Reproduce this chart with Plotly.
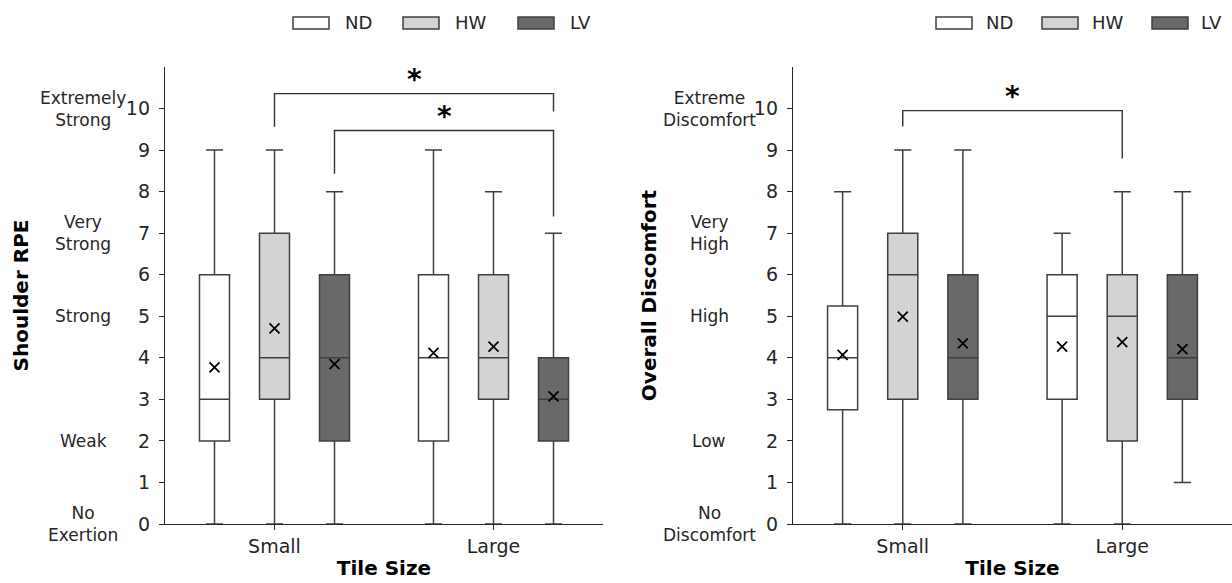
import plotly.graph_objects as go

# ---------------- data ----------------
conditions = ["ND", "HW", "LV"]
tile_sizes = ["Small", "Large"]
y_ticks = list(range(0, 11))

# Shoulder RPE (rows: ND, HW, LV ; cols: Small, Large)
rpe_min = [[0, 0], [0, 0], [0, 0]]
rpe_q1 = [[2, 2], [3, 3], [2, 2]]
rpe_med = [[3, 4], [4, 4], [4, 3]]
rpe_q3 = [[6, 6], [7, 6], [6, 4]]
rpe_max = [[9, 9], [9, 8], [8, 7]]
rpe_mean = [[3.77, 4.12], [4.71, 4.27], [3.85, 3.07]]
rpe_scale_vals = [10, 7, 5, 2, 0]
rpe_scale_text = ["Extremely<br>Strong", "Very<br>Strong", "Strong", "Weak", "No<br>Exertion"]

# Overall discomfort (rows: ND, HW, LV ; cols: Small, Large)
dis_min = [[0, 0], [0, 0], [0, 1]]
dis_q1 = [[2.75, 3], [3, 2], [3, 3]]
dis_med = [[4, 5], [6, 5], [4, 4]]
dis_q3 = [[5.25, 6], [7, 6], [6, 6]]
dis_max = [[8, 7], [9, 8], [9, 8]]
dis_mean = [[4.07, 4.27], [4.99, 4.38], [4.35, 4.21]]
dis_scale_vals = [10, 7, 5, 2, 0]
dis_scale_text = ["Extreme<br>Discomfort", "Very<br>High", "High", "Low", "No<br>Discomfort"]

# significance brackets: (size_a, cond_a, size_b, cond_b, top, leg_a_bottom, leg_b_bottom)
rpe_sig = [(0, 1, 1, 2, 10.36, 9.56, 9.93), (0, 2, 1, 2, 9.47, 8.43, 7.40)]
dis_sig = [(0, 1, 1, 1, 9.95, 9.57, 8.80)]

# ---------------- style ----------------
W, H = 1232, 583
ML, MR, MT, MB = 165, 0, 67, 59
fills = ["#ffffff", "#d3d3d3", "#696969"]
edge = "#3f3f3f"
axis_col = "#262626"
offsets = [-0.274, 0.0, 0.274]
box_w = 0.137
FONT = "DejaVu Sans"


def px2paper_x(px):
    return (px - ML) / (W - ML - MR)


def px2paper_y(py):
    return (H - MB - py) / (H - MB - MT)


fig = go.Figure()

panels = [
    dict(xa="x", ya="y", stats=(rpe_min, rpe_q1, rpe_med, rpe_q3, rpe_max, rpe_mean),
         sig=rpe_sig, scale=(rpe_scale_vals, rpe_scale_text), label_px=83),
    dict(xa="x2", ya="y2", stats=(dis_min, dis_q1, dis_med, dis_q3, dis_max, dis_mean),
         sig=dis_sig, scale=(dis_scale_vals, dis_scale_text), label_px=709),
]

annotations = []
shapes = []

for p in panels:
    mn, q1, md, q3, mx, mean = p["stats"]
    for k, cond in enumerate(conditions):
        xs = [g + offsets[k] for g in range(len(tile_sizes))]
        fig.add_trace(go.Box(
            x=xs, lowerfence=mn[k], q1=q1[k], median=md[k], q3=q3[k], upperfence=mx[k],
            width=box_w, whiskerwidth=0.57, fillcolor=fills[k],
            line=dict(color=edge, width=1.5), boxpoints=False,
            name=cond, showlegend=False, xaxis=p["xa"], yaxis=p["ya"],
        ))
        fig.add_trace(go.Scatter(
            x=xs, y=mean[k], mode="markers", showlegend=False, name=cond + " mean",
            marker=dict(symbol="x-thin", size=10, color="black",
                        line=dict(width=1.8, color="black")),
            xaxis=p["xa"], yaxis=p["ya"], cliponaxis=False,
        ))
    # scale labels
    vals, texts = p["scale"]
    for v, t in zip(vals, texts):
        annotations.append(dict(
            x=px2paper_x(p["label_px"]), xref="paper", y=v, yref=p["ya"],
            text=t, showarrow=False, xanchor="center", yanchor="middle",
            font=dict(family=FONT, size=17, color=axis_col), align="center",
        ))
    # significance brackets
    for (sa, ca, sb, cb, top, la, lb) in p["sig"]:
        xa_pos = sa + offsets[ca]
        xb_pos = sb + offsets[cb]
        shapes.append(dict(
            type="path", xref=p["xa"], yref=p["ya"],
            path=f"M {xa_pos},{la} L {xa_pos},{top} L {xb_pos},{top} L {xb_pos},{lb}",
            line=dict(color="#333333", width=1.4),
        ))
        annotations.append(dict(
            x=(xa_pos + xb_pos) / 2, xref=p["xa"], y=top, yref=p["ya"],
            text="<b>*</b>", showarrow=False, xanchor="center", yanchor="bottom",
            yshift=-4, font=dict(family=FONT, size=28, color="black"),
        ))

# legends (drawn as patches + text, one per panel)
legend_patch_px = [[293, 403, 518], [936, 1042, 1152]]
legend_text_px = [[343, 453, 568], [984, 1090, 1199]]
patch_w = 36
for patches, texts in zip(legend_patch_px, legend_text_px):
    for k, cond in enumerate(conditions):
        shapes.append(dict(
            type="rect", xref="paper", yref="paper",
            x0=px2paper_x(patches[k]), x1=px2paper_x(patches[k] + patch_w),
            y0=px2paper_y(29), y1=px2paper_y(17),
            fillcolor=fills[k], line=dict(color=edge, width=1.5),
        ))
        annotations.append(dict(
            x=px2paper_x(texts[k]), xref="paper", y=px2paper_y(23), yref="paper",
            text=cond, showarrow=False, xanchor="left", yanchor="middle",
            font=dict(family=FONT, size=18, color=axis_col),
        ))

xcommon = dict(range=[-0.5, 1.5], tickvals=[0, 1], ticktext=tile_sizes,
               showline=True, linecolor=axis_col, linewidth=1.4, ticks="outside",
               ticklen=5, tickwidth=1.3, tickcolor=axis_col, showgrid=False, zeroline=False,
               tickfont=dict(family=FONT, size=19, color=axis_col),
               title=dict(text="<b>Tile Size</b>", font=dict(family=FONT, size=20, color="black"),
                          standoff=4))
ycommon = dict(range=[0, 11], tickvals=y_ticks, showline=True, linecolor=axis_col,
               linewidth=1.4, ticks="outside", ticklen=5, tickwidth=1.3, tickcolor=axis_col,
               showgrid=False, zeroline=False, domain=[0, 1], ticklabelstandoff=5,
               tickfont=dict(family=FONT, size=19, color=axis_col))

fig.update_layout(
    width=W, height=H, margin=dict(l=ML, r=MR, t=MT, b=MB),
    plot_bgcolor="white", paper_bgcolor="white",
    font=dict(family=FONT, size=17, color=axis_col),
    xaxis=dict(domain=[0, px2paper_x(603)], anchor="y", **xcommon),
    xaxis2=dict(domain=[px2paper_x(793), 1], anchor="y2", **xcommon),
    yaxis=dict(anchor="x", title=dict(text="<b>Shoulder RPE</b>",
                                      font=dict(family=FONT, size=20, color="black"), standoff=91),
               **ycommon),
    yaxis2=dict(anchor="x2", title=dict(text="<b>Overall Discomfort</b>",
                                        font=dict(family=FONT, size=20, color="black"), standoff=91),
                **ycommon),
    annotations=annotations, shapes=shapes, showlegend=False,
)

fig.write_html("out.html")
